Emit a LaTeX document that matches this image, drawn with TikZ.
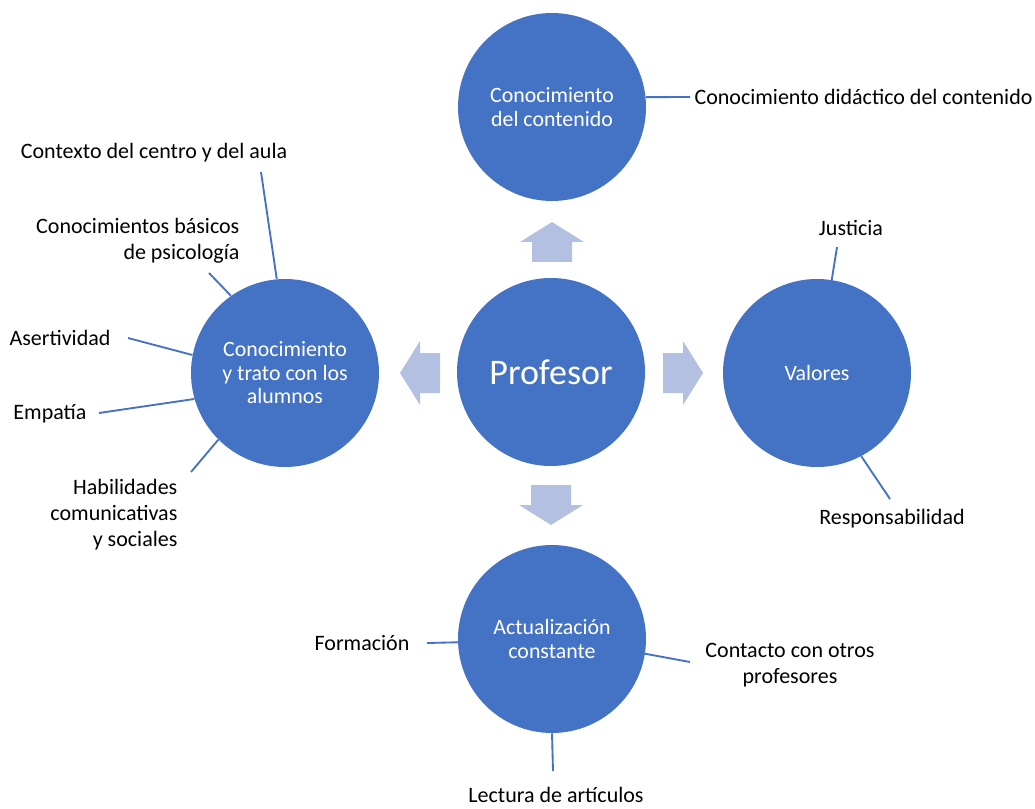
\documentclass[tikz,border=0pt]{standalone}
\usepackage{fontspec}
\setmainfont{Carlito}
\usetikzlibrary{positioning}
\definecolor{circblue}{HTML}{4472C4}
\definecolor{arrblue}{HTML}{B3C0E1}
\tikzset{
  bubble/.style={circle,fill=circblue,text=white,inner sep=0pt,minimum size=141pt,
    align=center,font=\fontsize{16.4}{17.6}\selectfont},
  lbl/.style={inner sep=1pt,font=\fontsize{16.5}{19.5}\selectfont},
  link/.style={draw=circblue,line width=1.4pt},
  blockarrow/.style={fill=arrblue}
}
\begin{document}
\begin{tikzpicture}[x=0.75pt,y=-0.75pt]
\useasboundingbox (0,0) rectangle (1035,809);
% circles
\node[bubble,font=\fontsize{27}{30}\selectfont] (p) at (551,372) {Profesor};
\node[bubble] (k) at (552,107) {Conocimiento\\del contenido};
\node[bubble] (a) at (285,373) {Conocimiento\\y trato con los\\alumnos};
\node[bubble] (v) at (817,373) {Valores};
\node[bubble] (u) at (552,639) {Actualizaci\'on\\constante};
% block arrows
\fill[blockarrow] (532,262) -- (572,262) -- (572,242) -- (584,242) -- (552,222) -- (520,242) -- (532,242) -- cycle;
\fill[blockarrow] (531,485) -- (571,485) -- (571,505) -- (583,505) -- (551,525) -- (519,505) -- (531,505) -- cycle;
\fill[blockarrow] (440,353) -- (440,393) -- (420,393) -- (420,405) -- (400,373) -- (420,341) -- (420,353) -- cycle;
\fill[blockarrow] (663,353) -- (663,393) -- (683,393) -- (683,405) -- (703,373) -- (683,341) -- (683,353) -- cycle;
% labels
\node[lbl,anchor=west] (l0) at (693,97) {Conocimiento did\'actico del contenido};
\node[lbl] (l1) at (154,153) {Contexto del centro y del aula};
\node[lbl,anchor=east,align=right] (l2) at (241,241) {Conocimientos b\'asicos\\de psicolog\'ia};
\node[lbl] (l3) at (60,338) {Asertividad};
\node[lbl] (l4) at (50,414) {Empat\'ia};
\node[lbl,anchor=east,align=right] (l5) at (179,515) {Habilidades\\comunicativas\\y sociales};
\node[lbl] (l6) at (851,228) {Justicia};
\node[lbl] (l7) at (892,519) {Responsabilidad};
\node[lbl] (l8) at (362,643) {Formaci\'on};
\node[lbl,align=center] (l9) at (790,665) {Contacto con otros\\profesores};
\node[lbl] (l10) at (556,795) {Lectura de art\'iculos};
% free ends of the links
\coordinate (e0) at (690,97);
\coordinate (e1) at (261,172);
\coordinate (e2) at (209,273);
\coordinate (e3) at (128,338);
\coordinate (e4) at (99,413);
\coordinate (e5) at (191,472);
\coordinate (e6) at (837,247);
\coordinate (e7) at (890,499);
\coordinate (e8) at (427,643);
\coordinate (e9) at (690,662);
\coordinate (e10) at (553,771);
\draw[link] (k.6) -- (e0);
\draw[link] (a.95.4) -- (e1) (a.125.7) -- (e2) (a.169.7) -- (e3);
\draw[link] (a.196.9) -- (e4) (a.225.8) -- (e5);
\draw[link] (v.81) -- (e6) (v.298.4) -- (e7);
\draw[link] (u.182.4) -- (e8) (u.351.7) -- (e9) (u.south) -- (e10);
\end{tikzpicture}
\end{document}
